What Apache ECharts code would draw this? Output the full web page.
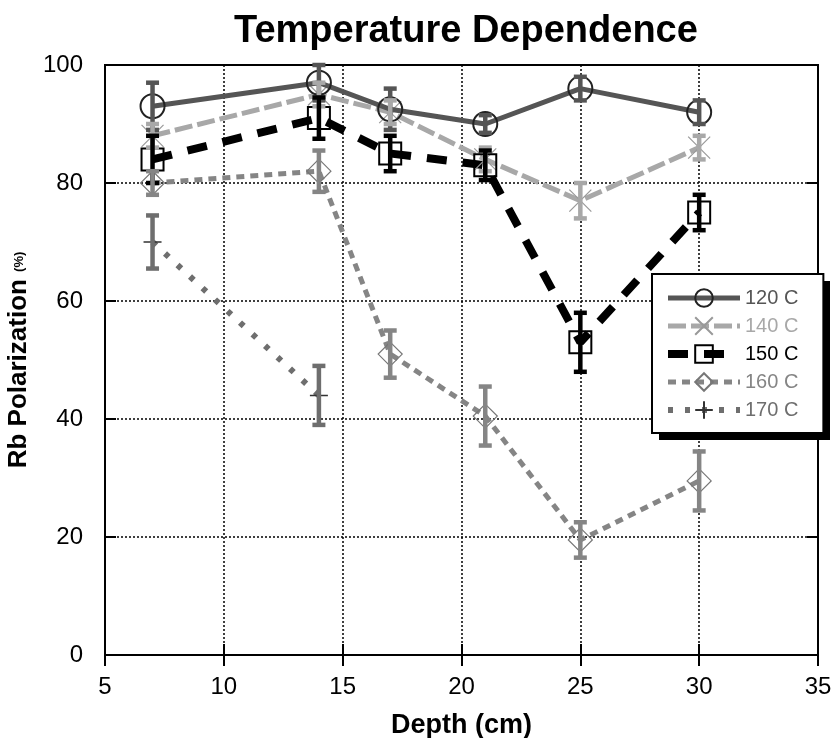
<!DOCTYPE html>
<html>
<head>
<meta charset="utf-8">
<script src="https://cdn.jsdelivr.net/npm/echarts@6/dist/echarts.min.js"></script>
<style>html,body{margin:0;padding:0;background:#fff;}#c{width:831px;height:738px;}</style>
</head>
<body>
<div id="c"></div>
<script>
const depths = [7, 14, 17, 21, 25, 30];
const p120 = [93, 97, 92.5, 90, 96, 92];
const e120 = [4, 3, 3.5, 1.5, 2, 2];
const p140 = [88, 95, 92, 84, 77, 86];
const e140 = [2, 2, 2, 2, 3, 2];
const p150 = [84, 91, 85, 83, 53, 75];
const e150 = [4, 3.5, 3, 2.5, 5, 3];
const p160 = [80, 82, 51, 40.5, 19.5, 29.5];
const e160 = [2, 3.5, 4, 5, 3, 5];
const depths170 = [7, 14];
const p170 = [70, 44];
const e170 = [4.5, 5];
const names = ['120 C', '140 C', '150 C', '160 C', '170 C'];
const xTicks = [5, 10, 15, 20, 25, 30, 35];
const yTicks = [0, 20, 40, 60, 80, 100];

const colors = ['#555555', '#a8a8a8', '#000000', '#858585', '#6e6e6e'];
const lineWidths = [5, 5, 8, 5, 6];
const FONT = '"Liberation Sans", Arial, sans-serif';

function pts(xs, ys) { return xs.map((x, i) => [x, ys[i]]); }
function errs(xs, ys, es) { return xs.map((x, i) => [x, ys[i] - es[i], ys[i] + es[i]]); }
function errRender(color, capW, lw) {
  return function (params, api) {
    const x = api.value(0), lo = api.value(1), hi = api.value(2);
    const a = api.coord([x, hi]), b = api.coord([x, lo]);
    const st = { stroke: color, lineWidth: lw };
    return { type: 'group', children: [
      { type: 'line', shape: { x1: a[0], y1: a[1], x2: b[0], y2: b[1] }, style: st },
      { type: 'line', shape: { x1: a[0] - capW / 2, y1: a[1], x2: a[0] + capW / 2, y2: a[1] }, style: st },
      { type: 'line', shape: { x1: b[0] - capW / 2, y1: b[1], x2: b[0] + capW / 2, y2: b[1] }, style: st }
    ]};
  };
}
function errSeries(name, data, color) {
  return { type: 'custom', name: name + ' err', data: data, renderItem: errRender(color, 13, 4.5),
    encode: { x: 0, y: [1, 2] }, z: 4, silent: true };
}

const chart = echarts.init(document.getElementById('c'), null, { renderer: 'canvas' });
const axisCommon = {
  axisLine: { show: true, lineStyle: { color: '#000', width: 2 } },
  axisTick: { show: true, inside: true, length: 11, lineStyle: { color: '#000', width: 2 } }
};
chart.setOption({
  animation: false,
  backgroundColor: '#fff',
  title: { text: 'Temperature Dependence', left: 229, top: 8,
    textStyle: { fontFamily: FONT, fontWeight: 'bold', fontSize: 38, color: '#000' } },
  grid: { left: 105, right: 13, top: 65, bottom: 83, show: true, borderColor: '#000', borderWidth: 2,
    outerBoundsMode: 'none', containLabel: false },
  graphic: [
    { type: 'rect', left: 659, top: 281, shape: { width: 171, height: 159 },
      style: { fill: '#000' }, z: 1 }
  ],
  xAxis: [
    Object.assign({ type: 'value', min: 5, max: 35, interval: 5, position: 'bottom',
      name: 'Depth (cm)', nameLocation: 'middle', nameGap: 57,
      nameTextStyle: { fontFamily: FONT, fontWeight: 'bold', fontSize: 27, color: '#000' },
      axisLabel: { fontFamily: FONT, fontSize: 24, color: '#000', margin: 20,
        formatter: v => xTicks.includes(v) ? String(v) : '' },
      splitLine: { show: true, lineStyle: { color: '#000', width: 1.5, type: [2, 2] } } }, axisCommon),
    Object.assign({ type: 'value', min: 5, max: 35, interval: 5, position: 'top',
      axisLabel: { show: false }, splitLine: { show: false } }, axisCommon)
  ],
  yAxis: [
    Object.assign({ type: 'value', min: 0, max: 100, interval: 20, position: 'left',
      name: 'Rb Polarization {s|(%)}', nameLocation: 'middle', nameGap: 60,
      nameTextStyle: { fontFamily: FONT, fontWeight: 'bold', fontSize: 26, color: '#000',
        rich: { s: { fontFamily: FONT, fontSize: 13, color: '#000' } } },
      axisLabel: { fontFamily: FONT, fontSize: 24, color: '#000', margin: 22,
        formatter: v => yTicks.includes(v) ? String(v) : '' },
      splitLine: { show: true, lineStyle: { color: '#000', width: 1.5, type: [2, 2] } } }, axisCommon),
    Object.assign({ type: 'value', min: 0, max: 100, interval: 20, position: 'right',
      axisLabel: { show: false }, splitLine: { show: false } }, axisCommon)
  ],
  legend: {
    orient: 'vertical', left: 652, top: 274,
    padding: [14, 25, 13, 12], itemWidth: 72, itemHeight: 22, itemGap: 8,
    backgroundColor: '#fff', borderColor: '#000', borderWidth: 2,
    textStyle: { fontFamily: FONT, fontSize: 20 },
    data: names.map((n, i) => ({ name: n, textStyle: { color: colors[i] },
      lineStyle: { width: lineWidths[i] } }))
  },
  series: [
    { type: 'line', name: names[0], data: pts(depths, p120), z: 3,
      lineStyle: { color: colors[0], width: lineWidths[0] },
      symbol: 'circle', symbolSize: 24,
      itemStyle: { color: 'rgba(0,0,0,0)', borderColor: '#222', borderWidth: 2 } },
    { type: 'line', name: names[1], data: pts(depths, p140), z: 2,
      lineStyle: { color: colors[1], width: lineWidths[1], type: [18, 5] },
      symbol: 'path://M0,0L10,10M0,10L10,0', symbolSize: 22,
      itemStyle: { color: 'rgba(0,0,0,0)', borderColor: '#999', borderWidth: 1.2 } },
    { type: 'line', name: names[2], data: pts(depths, p150), z: 2,
      lineStyle: { color: colors[2], width: lineWidths[2], type: [20, 16] },
      symbol: 'rect', symbolSize: 22,
      itemStyle: { color: 'rgba(255,255,255,0)', borderColor: '#000', borderWidth: 2 } },
    { type: 'line', name: names[3], data: pts(depths, p160), z: 2,
      lineStyle: { color: colors[3], width: lineWidths[3], type: [8, 6] },
      symbol: 'diamond', symbolSize: 24,
      itemStyle: { color: 'rgba(0,0,0,0)', borderColor: '#777', borderWidth: 1.2 } },
    { type: 'line', name: names[4], data: pts(depths170, p170), z: 2,
      lineStyle: { color: colors[4], width: lineWidths[4], type: [5, 12] },
      symbol: 'path://M0,5L10,5M5,0L5,10', symbolSize: 18,
      itemStyle: { color: 'rgba(0,0,0,0)', borderColor: '#333', borderWidth: 1.5 } },
    errSeries(names[0], errs(depths, p120, e120), colors[0]),
    errSeries(names[1], errs(depths, p140, e140), colors[1]),
    errSeries(names[2], errs(depths, p150, e150), colors[2]),
    errSeries(names[3], errs(depths, p160, e160), colors[3]),
    errSeries(names[4], errs(depths170, p170, e170), colors[4])
  ]
});
</script>
</body>
</html>
